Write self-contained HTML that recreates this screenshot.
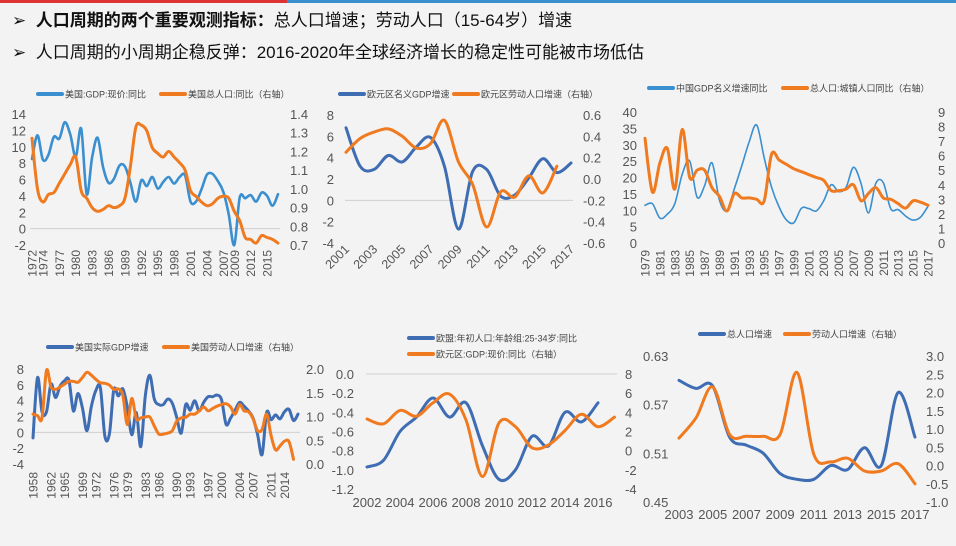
<!DOCTYPE html>
<html><head><meta charset="utf-8">
<style>
body{margin:0;width:956px;height:546px;background:#f3f3f3;overflow:hidden;font-family:"Liberation Sans","Noto Sans CJK SC",sans-serif;}
#top{position:absolute;left:0;top:0;width:956px;height:3px;background:linear-gradient(90deg,#d33 0,#d33 30%,#3a8fd0 30%,#3a8fd0 100%);}
.h{position:absolute;left:12px;font-size:17px;color:#111;white-space:nowrap;}
</style></head><body>
<div id="top"></div>
<div class="h" style="top:6px">➢&nbsp;&nbsp;<b>人口周期的两个重要观测指标：</b>总人口增速；劳动人口（15-64岁）增速</div>
<div class="h" style="top:38px">➢&nbsp;&nbsp;人口周期的小周期企稳反弹：2016-2020年全球经济增长的稳定性可能被市场低估</div>
<svg id="svg" width="956" height="546" style="position:absolute;left:0;top:0"></svg>
<script>
// Chart 1: US GDP vs US population
const c1Years=[1972,1973,1974,1975,1976,1977,1978,1979,1980,1981,1982,1983,1984,1985,1986,1987,1988,1989,1990,1991,1992,1993,1994,1995,1996,1997,1998,1999,2000,2001,2002,2003,2004,2005,2006,2007,2008,2009,2010,2011,2012,2013,2014,2015,2016,2017];
const c1Gdp=[8.5,11.4,8.4,9.0,11.2,11.0,13.0,11.5,8.8,12.2,4.2,8.7,11.1,7.5,5.6,6.1,7.7,7.6,5.6,3.3,5.9,5.2,6.3,4.9,5.7,6.3,5.5,6.3,6.5,3.3,3.3,4.8,6.6,6.7,5.8,4.5,1.7,-2.0,3.8,3.7,4.1,3.3,4.4,4.0,2.8,4.2];
const c1Pop=[1.27,1.0,0.93,0.97,0.98,1.03,1.08,1.13,1.17,0.99,0.95,0.90,0.88,0.89,0.91,0.90,0.91,0.95,1.12,1.33,1.34,1.31,1.22,1.19,1.17,1.20,1.17,1.14,1.10,0.99,0.96,0.93,0.91,0.92,0.95,0.96,0.95,0.88,0.83,0.74,0.73,0.71,0.75,0.74,0.73,0.71];
const c1XTicks=[1972,1974,1977,1980,1983,1986,1989,1992,1995,1998,2001,2004,2007,2009,2012,2015];
const c1LTicks=[14,12,10,8,6,4,2,0,-2];
const c1RTicks=["1.4","1.3","1.2","1.1","1.0","0.9","0.8","0.7"];
// Chart 2: Euro area GDP vs labor
const c2Years=[2001,2002,2003,2004,2005,2006,2007,2008,2009,2010,2011,2012,2013,2014,2015,2016,2017];
const c2Gdp=[6.8,3.2,2.9,4.2,3.6,5.0,5.9,3.2,-2.7,2.7,2.9,0.4,0.5,2.1,3.9,2.6,3.5];
const c2LabYears=[2001,2002,2003,2004,2005,2006,2007,2008,2009,2010,2011,2012,2013,2014,2015,2016];
const c2Lab=[0.25,0.38,0.44,0.47,0.40,0.29,0.33,0.55,0.16,-0.05,-0.45,-0.12,-0.17,0.03,-0.13,0.12];
const c2XTicks=[2001,2003,2005,2007,2009,2011,2013,2015,2017];
const c2LTicks=[8,6,4,2,0,-2,-4];
const c2RTicks=["0.6","0.4","0.2","0.0","-0.2","-0.4","-0.6"];
// Chart 3: China GDP vs urban pop
const c3Years=[1979,1980,1981,1982,1983,1984,1985,1986,1987,1988,1989,1990,1991,1992,1993,1994,1995,1996,1997,1998,1999,2000,2001,2002,2003,2004,2005,2006,2007,2008,2009,2010,2011,2012,2013,2014,2015,2016,2017];
const c3Gdp=[11.5,12,7.6,8.8,12,21,25,14,17.5,24.5,13,9.9,16.6,23.6,31,36,26,17,11,7,6.2,10.6,10.5,9.8,12.9,17.8,15.7,17,23.1,18.2,9.2,18.3,18.4,10.4,10.2,8.2,7.0,7.9,11.2];
const c3Pop=[7.2,3.5,5.5,6.5,3.7,7.8,4.5,5.0,5.0,3.8,3.2,2.2,3.4,3.1,3.1,3.0,2.9,6.1,5.7,5.4,5.1,4.9,4.7,4.5,4.3,3.6,3.6,3.7,4.0,2.9,3.4,3.8,3.1,3.0,2.7,2.4,2.9,2.8,2.6];
const c3XTicks=[1979,1981,1983,1985,1987,1989,1991,1993,1995,1997,1999,2001,2003,2005,2007,2009,2011,2013,2015,2017];
const c3LTicks=[40,35,30,25,20,15,10,5,0];
const c3RTicks=[9,8,7,6,5,4,3,2,1,0];
// Chart 4: US real GDP vs labor
const c4Years=[1958,1959,1960,1961,1962,1963,1964,1965,1966,1967,1968,1969,1970,1971,1972,1973,1974,1975,1976,1977,1978,1979,1980,1981,1982,1983,1984,1985,1986,1987,1988,1989,1990,1991,1992,1993,1994,1995,1996,1997,1998,1999,2000,2001,2002,2003,2004,2005,2006,2007,2008,2009,2010,2011,2012,2013,2014,2015,2016,2017];
const c4Gdp=[-0.7,6.9,2.6,2.6,6.1,4.4,5.8,6.5,6.6,2.7,4.9,3.1,0.2,3.3,5.3,5.6,-0.5,-0.2,5.4,4.6,5.5,3.2,-0.3,2.5,-1.8,4.6,7.2,4.2,3.5,3.5,4.2,3.7,1.9,-0.1,3.5,2.8,4.0,2.7,3.8,4.5,4.5,4.7,4.1,1.0,1.8,2.8,3.8,3.3,2.7,1.8,-0.3,-2.8,2.5,1.6,2.2,1.7,2.6,2.9,1.5,2.3];
const c4LabYears=c4Years.slice(0,59);
const c4Lab=[1.05,1.02,0.97,1.97,1.62,1.57,1.62,1.68,1.74,1.74,1.72,1.82,1.93,1.87,1.78,1.71,1.70,1.66,1.57,1.58,1.45,0.83,1.38,0.95,0.97,0.99,0.99,0.80,0.63,0.63,0.65,0.70,0.90,0.97,0.98,1.05,1.05,1.12,1.20,1.12,1.17,1.22,1.25,1.27,1.20,1.05,1.25,1.12,1.10,0.95,0.70,0.73,1.05,0.60,0.30,0.38,0.48,0.47,0.10];
const c4XTicks=[1958,1962,1965,1969,1972,1976,1979,1983,1986,1990,1993,1997,2000,2004,2007,2011,2014];
const c4LTicks=[8,6,4,2,0,-2,-4];
const c4RTicks=["2.0","1.5","1.0","0.5","0.0"];
// Chart 5: EU young pop vs euro GDP
const c5Years=[2002,2003,2004,2005,2006,2007,2008,2009,2010,2011,2012,2013,2014,2015,2016];
const c5Pop=[-0.97,-0.9,-0.6,-0.45,-0.25,-0.45,-0.3,-0.75,-1.1,-1.0,-0.65,-0.75,-0.4,-0.5,-0.3];
const c5GdpYears=[2002,2003,2004,2005,2006,2007,2008,2009,2010,2011,2012,2013,2014,2015,2016,2017];
const c5Gdp=[3.3,2.8,4.2,3.6,5.0,5.9,3.2,-2.7,2.9,2.5,0.3,0.6,2.1,3.8,2.5,3.5];
const c5XTicks=[2002,2004,2006,2008,2010,2012,2014,2016];
const c5LTicks=["0.0","-0.2","-0.4","-0.6","-0.8","-1.0","-1.2"];
const c5RTicks=[8,6,4,2,0,-2,-4];
// Chart 6: total pop vs labor
const c6Years=[2003,2004,2005,2006,2007,2008,2009,2010,2011,2012,2013,2014,2015,2016,2017];
const c6Pop=[0.60,0.59,0.593,0.53,0.52,0.51,0.485,0.478,0.478,0.495,0.49,0.517,0.495,0.585,0.53];
const c6Lab=[0.75,1.3,2.15,0.85,0.8,0.8,0.85,2.55,0.3,0.1,0.2,-0.15,-0.15,0.05,-0.5];
const c6XTicks=[2003,2005,2007,2009,2011,2013,2015,2017];
const c6LTicks=["0.63","0.57","0.51","0.45"];
const c6RTicks=["3.0","2.5","2.0","1.5","1.0","0.5","0.0","-0.5","-1.0"];

const NS="http://www.w3.org/2000/svg";
const svg=document.getElementById('svg');
function mk(tag,attrs,parent){const e=document.createElementNS(NS,tag);for(const k in attrs)e.setAttribute(k,attrs[k]);(parent||svg).appendChild(e);return e;}
function smooth(pts){let d='M'+pts[0][0].toFixed(1)+','+pts[0][1].toFixed(1);for(let i=0;i<pts.length-1;i++){const p0=pts[i-1]||pts[i],p1=pts[i],p2=pts[i+1],p3=pts[i+2]||p2;const t=6;d+=' C'+(p1[0]+(p2[0]-p0[0])/t).toFixed(1)+','+(p1[1]+(p2[1]-p0[1])/t).toFixed(1)+' '+(p2[0]-(p3[0]-p1[0])/t).toFixed(1)+','+(p2[1]-(p3[1]-p1[1])/t).toFixed(1)+' '+p2[0].toFixed(1)+','+p2[1].toFixed(1);}return d;}
function chart(cfg){
  const g=mk('g',{});
  
  
  const xs=v=>cfg.x0+(v-cfg.xa)/(cfg.xb-cfg.xa)*(cfg.x1-cfg.x0);
  const yl=v=>cfg.yTop+(cfg.lMax-v)/(cfg.lMax-cfg.lMin)*(cfg.yBot-cfg.yTop);
  const yr=v=>cfg.yTop+(cfg.rMax-v)/(cfg.rMax-cfg.rMin)*(cfg.yBot-cfg.yTop);
  const gl=mk('line',{x1:cfg.gx0,x2:cfg.gx1,y1:yl(cfg.gridV),y2:yl(cfg.gridV),stroke:'#d0d0d0','stroke-width':1},g);
  
  
  cfg.lT.forEach(t=>{const e=mk('text',{x:cfg.lx,y:yl(+t)+5,'text-anchor':cfg.lAnchor||'end','font-size':13,fill:'#555'},g);e.textContent=t;
    
    });
  cfg.rT.forEach(t=>{const e=mk('text',{x:cfg.rx,y:yr(+t)+5,'font-size':13,fill:'#555'},g);e.textContent=t;
    
    });
  cfg.xT.forEach(t=>{const x=xs(t);let e;
    if(cfg.rot==='v'){e=mk('text',{x:0,y:0,transform:`translate(${x+4.5},${cfg.xy}) rotate(-90)`,'text-anchor':'end','font-size':12,fill:'#555'},g);}
    else if(cfg.rot==='d'){e=mk('text',{x:0,y:0,transform:`translate(${x+4},${cfg.xy}) rotate(-45)`,'text-anchor':'end','font-size':12.5,fill:'#555'},g);}
    else{e=mk('text',{x:x,y:cfg.xy,'text-anchor':'middle','font-size':13,fill:'#555'},g);}
    e.textContent=t;
    
    });
  cfg.series.forEach(s=>{const sc=s.axis==='r'?yr:yl;const pts=s.x.map((v,i)=>[xs(v),sc(s.y[i])]);
    const p=mk('path',{d:smooth(pts),fill:'none',stroke:s.color,'stroke-width':s.w,'stroke-linejoin':'round','stroke-linecap':'round'},g);
    
    });
  cfg.legend.forEach(l=>{const lg=mk('g',{},g);
    
    
    mk('line',{x1:l.x,x2:l.x+24,y1:l.y,y2:l.y,stroke:l.color,'stroke-width':4,'stroke-linecap':'round'},lg);
    const t=mk('text',{x:l.x+27,y:l.y+3.5,'font-size':9,fill:'#444'},lg);t.textContent=l.text;});
}
const B1='#3a8fd0',B2='#3f6db3',O='#f07a1f';
chart({name:'us-gdp-population-chart',x0:32,x1:278,xa:1972,xb:2017,yTop:114,yBot:245,lMax:14,lMin:-2,rMax:1.4,rMin:0.7,gridV:0,gx0:30,gx1:280,lx:26,rx:290,xy:250,rot:'v',xT:c1XTicks,lT:c1LTicks,rT:c1RTicks,
 series:[{name:'us-gdp-line',x:c1Years,y:c1Gdp,axis:'l',color:B1,w:2.6},{name:'us-population-line',x:c1Years,y:c1Pop,axis:'r',color:O,w:3}],
 legend:[{x:38,y:94,color:B1,text:'美国:GDP:现价:同比'},{x:161,y:94,color:O,text:'美国总人口:同比（右轴）'}]});
chart({name:'euro-gdp-labor-chart',x0:346,x1:571,xa:2001,xb:2017,yTop:115,yBot:243,lMax:8,lMin:-4,rMax:0.6,rMin:-0.6,gridV:0,gx0:345,gx1:573,lx:334,rx:583,xy:250,rot:'d',xT:c2XTicks,lT:c2LTicks,rT:c2RTicks,
 series:[{name:'euro-gdp-line',x:c2Years,y:c2Gdp,axis:'l',color:B2,w:3},{name:'euro-labor-line',x:c2LabYears,y:c2Lab,axis:'r',color:O,w:3}],
 legend:[{x:340,y:94,color:B2,text:'欧元区名义GDP增速'},{x:454,y:94,color:O,text:'欧元区劳动人口增速（右轴）'}]});
chart({name:'china-gdp-urban-chart',x0:645,x1:928,xa:1979,xb:2017,yTop:112,yBot:243,lMax:40,lMin:0,rMax:9,rMin:0,gridV:0,gx0:645,gx1:645,lx:637,rx:938,xy:250,rot:'v',xT:c3XTicks,lT:c3LTicks,rT:c3RTicks,
 series:[{name:'china-gdp-line',x:c3Years,y:c3Gdp,axis:'l',color:B1,w:1.6},{name:'china-urban-pop-line',x:c3Years,y:c3Pop,axis:'r',color:O,w:3}],
 legend:[{x:649,y:88,color:B1,text:'中国GDP名义增速同比'},{x:783,y:88,color:O,text:'总人口:城镇人口同比（右轴）'}]});
chart({name:'us-real-gdp-labor-chart',x0:33,x1:298,xa:1958,xb:2017,yTop:369,yBot:464,lMax:8,lMin:-4,rMax:2,rMin:0,gridV:0,gx0:32,gx1:300,lx:24,rx:306,xy:472,rot:'v',xT:c4XTicks,lT:c4LTicks,rT:c4RTicks,
 series:[{name:'us-real-gdp-line',x:c4Years,y:c4Gdp,axis:'l',color:B2,w:3},{name:'us-labor-line',x:c4LabYears,y:c4Lab,axis:'r',color:O,w:3}],
 legend:[{x:48,y:347,color:B2,text:'美国实际GDP增速'},{x:164,y:347,color:O,text:'美国劳动人口增速（右轴）'}]});
chart({name:'eu-young-pop-gdp-chart',x0:367,x1:598,xa:2002,xb:2016,yTop:374,yBot:489,lMax:0,lMin:-1.2,rMax:8,rMin:-4,gridV:0,gx0:366,gx1:617,lx:354,rx:625,xy:507,rot:'h',xT:c5XTicks,lT:c5LTicks,rT:c5RTicks,
 series:[{name:'eu-young-pop-line',x:c5Years,y:c5Pop,axis:'l',color:B2,w:3},{name:'euro-gdp-line',x:c5GdpYears,y:c5Gdp,axis:'r',color:O,w:3}],
 legend:[{x:409,y:338,color:B2,text:'欧盟:年初人口:年龄组:25-34岁:同比'},{x:409,y:354,color:O,text:'欧元区:GDP:现价:同比（右轴）'}]});
chart({name:'total-labor-pop-chart',x0:679,x1:915,xa:2003,xb:2017,yTop:356,yBot:502,lMax:0.63,lMin:0.45,rMax:3,rMin:-1,gridV:0.45,gx0:679,gx1:679,lx:643,lAnchor:'start',rx:926,xy:519,rot:'h',xT:c6XTicks,lT:c6LTicks,rT:c6RTicks,
 series:[{name:'total-pop-line',x:c6Years,y:c6Pop,axis:'l',color:B2,w:3},{name:'labor-pop-line',x:c6Years,y:c6Lab,axis:'r',color:O,w:3}],
 legend:[{x:700,y:334,color:B2,text:'总人口增速'},{x:785,y:334,color:O,text:'劳动人口增速（右轴）'}]});
</script>
</body></html>
